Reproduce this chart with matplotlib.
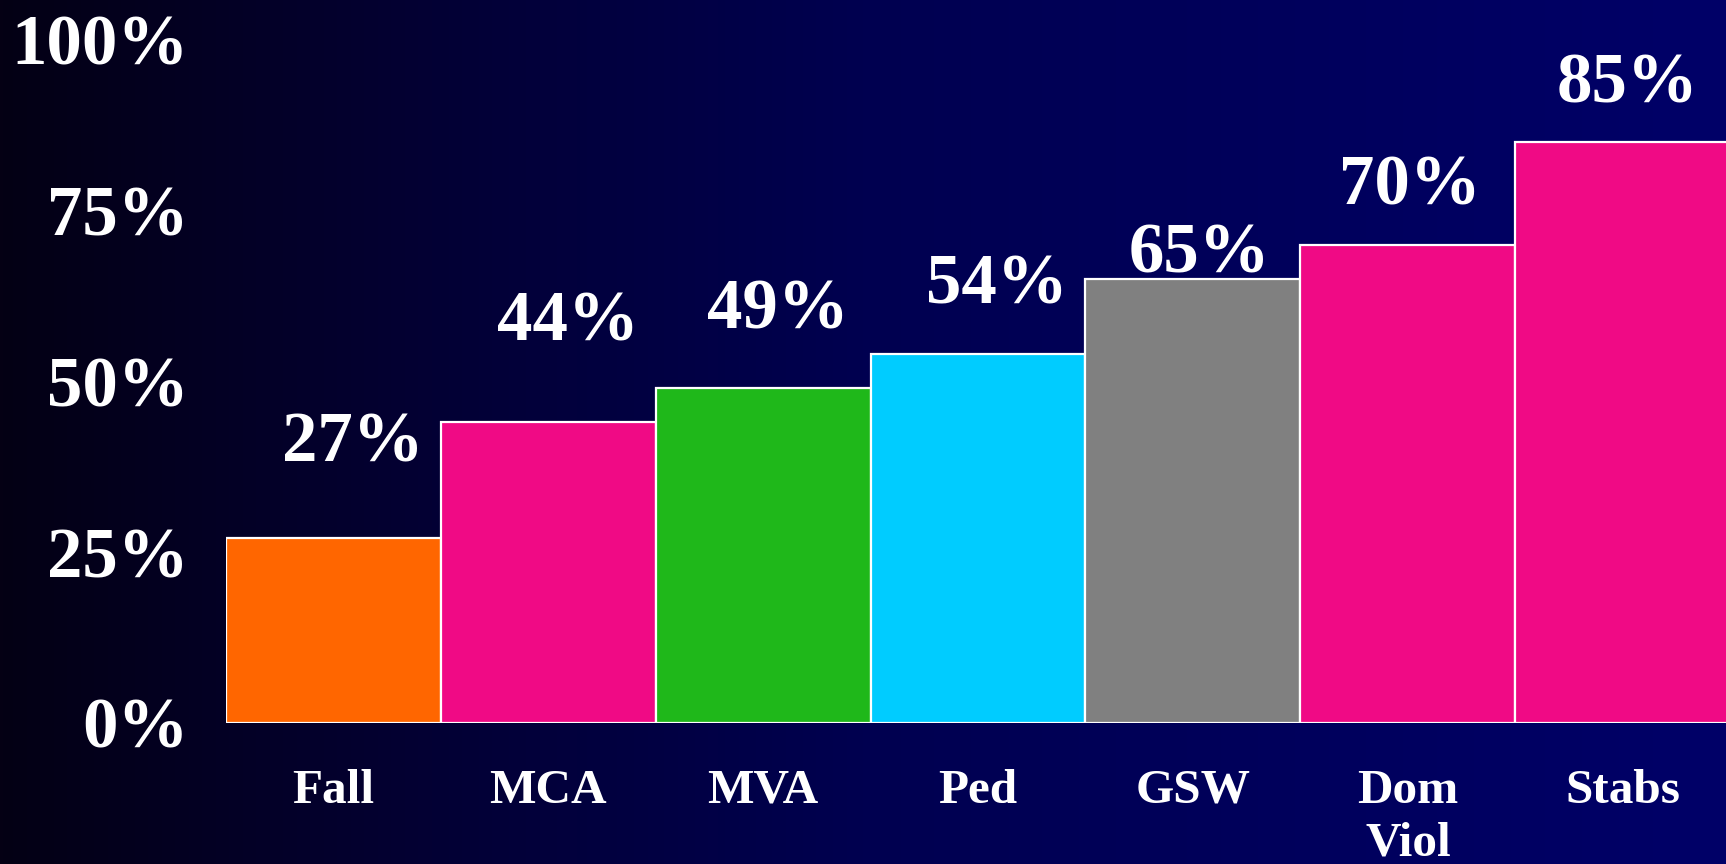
import numpy as np
import matplotlib.pyplot as plt

categories = ['Fall', 'MCA', 'MVA', 'Ped', 'GSW', 'Dom\nViol', 'Stabs']
values = [27, 44, 49, 54, 65, 70, 85]
value_labels = ['27%', '44%', '49%', '54%', '65%', '70%', '85%']
y_ticks = [0, 25, 50, 75, 100]
y_tick_labels = ['0%', '25%', '50%', '75%', '100%']

bar_colors = ['#FF6600', '#F00A85', '#1FB81A', '#00CCFF', '#808080', '#F00A85', '#F00A85']
# label spots above each bar (hand placed in the original slide)
label_dy = [13.8, 14.6, 11.3, 10.0, 3.5, 8.4, 8.4]
label_dx = [0.09, 0.09, 0.07, 0.09, 0.03, 0.01, 0.02]

plt.rcParams['font.family'] = ['Liberation Serif', 'DejaVu Serif']
plt.rcParams['font.weight'] = 'bold'

fig = plt.figure(figsize=(17.26, 8.64), dpi=100)

# background gradient, near black on the left to navy on the right
bg = fig.add_axes([0, 0, 1, 1], zorder=0)
grad = np.linspace(0, 1, 512)
stops = [0.0, 0.25, 0.5, 1.0]
red = np.interp(grad, stops, [4, 3, 0, 0]) / 255
blue = np.interp(grad, stops, [20, 52, 80, 104]) / 255
img = np.stack([red, np.zeros_like(grad), blue], axis=-1)[None, :, :]
bg.imshow(img, aspect='auto', extent=[0, 1, 0, 1])
bg.axis('off')

ax = fig.add_axes([0.1308, 0.1632, 0.8692, 0.7910], zorder=1)
ax.patch.set_alpha(0)

x = np.arange(len(categories))
ax.bar(x, values, width=1.0, color=bar_colors, edgecolor='white', linewidth=1.6)

for xi, v, lab, dx, dy in zip(x, values, value_labels, label_dx, label_dy):
    ax.text(xi + dx, v + dy, lab, ha='center', va='center', color='white',
            fontsize=51, fontweight='bold', clip_on=False)

ax.set_xlim(-0.5, 6.48)
ax.set_ylim(0, 100)
ax.set_yticks(y_ticks)
ax.set_yticklabels(y_tick_labels, fontsize=51, fontweight='bold', color='white')
ax.set_xticks(x)
ax.set_xticklabels(categories, fontsize=35.5, fontweight='bold', color='white', linespacing=1.25)
ax.tick_params(axis='y', length=0, pad=27)
ax.tick_params(axis='x', length=0, pad=33)
for s in ax.spines.values():
    s.set_visible(False)

fig.savefig('out.png', dpi=100)
